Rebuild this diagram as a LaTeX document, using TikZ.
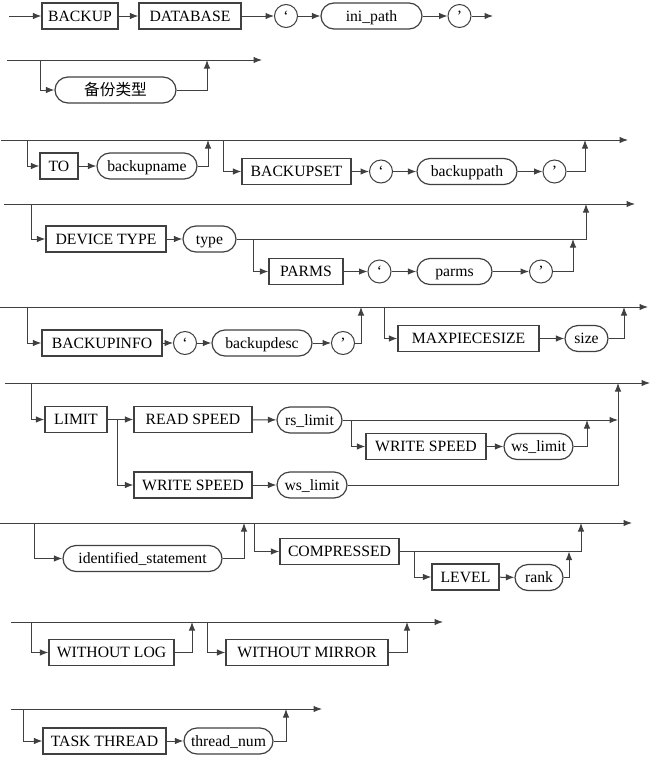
\documentclass[tikz,border=0pt]{standalone}
\usepackage{fontspec}
\setmainfont{Liberation Serif}
\newfontfamily\cjk{Noto Sans CJK SC}
\usetikzlibrary{arrows.meta}

\begin{document}
\begin{tikzpicture}[x=1pt,y=-1pt,
        ln/.style={draw=black!75, line width=1pt},
        arr/.style={ln, -{Latex[length=8.5pt,width=6.5pt]}},
        kw/.style={draw=black!75, line width=1.2pt, minimum height=26pt, inner sep=0pt, text height=10.4pt, text depth=0pt, font=\fontsize{15.7}{18}\selectfont},
        var/.style={kw, rounded corners=13pt},
        quo/.style={circle, draw=black!75, line width=1pt, minimum size=23pt, inner sep=0pt, font=\fontsize{15.7}{18}\selectfont}]
        \useasboundingbox (0,0) rectangle (653,758);

        % BACKUP DATABASE ' ini_path '
        \coordinate (r1s) at (9,16);
        \coordinate (r1e) at (493,16);
        \node[kw, minimum width=76pt] (bkup) at (80,16) {BACKUP};
        \node[kw, minimum width=102pt] (dbase) at (190,16) {DATABASE};
        \node[quo] (q1) at (286,16) {‘};
        \node[var, minimum width=101pt] (inip) at (371.5,16) {ini\_path};
        \node[quo] (q2) at (459.5,16) {’};
        \draw[arr] (r1s) -- (bkup);
        \draw[arr] (bkup) -- (dbase);
        \draw[arr] (dbase) -- (q1);
        \draw[arr] (q1) -- (inip);
        \draw[arr] (inip) -- (q2);
        \draw[arr] (q2) -- (r1e);

        % backup type
        \coordinate (r2s) at (7,60);
        \coordinate (r2e) at (262,60);
        \coordinate (r2a) at (40,60);
        \coordinate (r2b) at (207,60);
        \node[var, minimum width=121pt] (bktype) at (115.5,90) {\cjk 备份类型};
        \draw[arr] (r2s) -- (r2e);
        \draw[arr] (r2a) |- (bktype);
        \draw[arr] (bktype) -| (r2b);

        % TO / BACKUPSET
        \coordinate (r3s) at (1,140);
        \coordinate (r3e) at (628,140);
        \coordinate (r3a) at (27,140);
        \coordinate (r3b) at (208,140);
        \coordinate (r3c) at (223,140);
        \coordinate (r3d) at (585,140);
        \node[kw, minimum width=38pt] (to) at (59,166) {TO};
        \node[var, minimum width=100pt] (bkname) at (147,166) {backupname};
        \node[kw, minimum width=109pt] (bkset) at (296.5,171.5) {BACKUPSET};
        \node[quo] (q3) at (381,171.5) {‘};
        \node[var, minimum width=100pt] (bkpath) at (467,171.5) {backuppath};
        \node[quo] (q4) at (554.5,171.5) {’};
        \draw[arr] (r3s) -- (r3e);
        \draw[arr] (r3a) |- (to);
        \draw[arr] (to) -- (bkname);
        \draw[arr] (bkname) -| (r3b);
        \draw[arr] (r3c) |- (bkset);
        \draw[arr] (bkset) -- (q3);
        \draw[arr] (q3) -- (bkpath);
        \draw[arr] (bkpath) -- (q4);
        \draw[arr] (q4) -| (r3d);

        % DEVICE TYPE / PARMS
        \coordinate (r4s) at (4,204);
        \coordinate (r4e) at (635,204);
        \coordinate (r4a) at (31,204);
        \coordinate (r4c) at (586,204);
        \coordinate (r4d) at (253,239);
        \coordinate (r4f) at (573,239);
        \node[kw, minimum width=120pt] (devtype) at (106,239) {DEVICE TYPE};
        \node[var, minimum width=53pt] (type) at (209.5,239) {type};
        \node[kw, minimum width=74pt] (parms) at (306,271.5) {PARMS};
        \node[quo] (q5) at (379.5,271.5) {‘};
        \node[var, minimum width=75pt] (parmsv) at (454.5,271.5) {parms};
        \node[quo] (q6) at (541,271.5) {’};
        \draw[arr] (r4s) -- (r4e);
        \draw[arr] (r4a) |- (devtype);
        \draw[arr] (devtype) -- (type);
        \draw[arr] (type) -| (r4c);
        \draw[arr] (r4d) |- (parms);
        \draw[arr] (parms) -- (q5);
        \draw[arr] (q5) -- (parmsv);
        \draw[arr] (parmsv) -- (q6);
        \draw[arr] (q6) -| (r4f);

        % BACKUPINFO / MAXPIECESIZE
        \coordinate (r5s) at (0,307);
        \coordinate (r5e) at (648,307);
        \coordinate (r5a) at (27,307);
        \coordinate (r5b) at (361,307);
        \coordinate (r5c) at (384,307);
        \coordinate (r5d) at (624,307);
        \node[kw, minimum width=120pt] (bkinfo) at (102,343) {BACKUPINFO};
        \node[quo] (q7) at (185,343) {‘};
        \node[var, minimum width=100pt] (bkdesc) at (262,343) {backupdesc};
        \node[quo] (q8) at (343,343) {’};
        \node[kw, minimum width=141pt] (maxps) at (468.5,338.5) {MAXPIECESIZE};
        \node[var, minimum width=43pt] (size) at (586.5,338.5) {size};
        \draw[arr] (r5s) -- (r5e);
        \draw[arr] (r5a) |- (bkinfo);
        \draw[arr] (bkinfo) -- (q7);
        \draw[arr] (q7) -- (bkdesc);
        \draw[arr] (bkdesc) -- (q8);
        \draw[arr] (q8) -| (r5b);
        \draw[arr] (r5c) |- (maxps);
        \draw[arr] (maxps) -- (size);
        \draw[arr] (size) -| (r5d);

        % LIMIT
        \coordinate (r6s) at (5,383);
        \coordinate (r6e) at (650,383);
        \coordinate (r6a) at (31,383);
        \coordinate (r6b) at (117,419.5);
        \coordinate (r6c) at (618,383);
        \coordinate (r6j) at (618,420);
        \coordinate (r6k) at (351,420);
        \coordinate (r6m) at (587,420);
        \node[kw, minimum width=62pt] (limit) at (76,419.5) {LIMIT};
        \node[kw, minimum width=118pt] (rdspd) at (193,419.5) {READ SPEED};
        \node[var, minimum width=65pt] (rslim) at (309.5,420) {rs\_limit};
        \node[kw, minimum width=120pt] (wrspdA) at (426,446.5) {WRITE SPEED};
        \node[var, minimum width=69pt] (wslimA) at (538.5,446.5) {ws\_limit};
        \node[kw, minimum width=118pt] (wrspdB) at (193,485) {WRITE SPEED};
        \node[var, minimum width=70pt] (wslimB) at (312,485) {ws\_limit};
        \draw[arr] (r6s) -- (r6e);
        \draw[arr] (r6a) |- (limit);
        \draw[arr] (limit) -- (rdspd);
        \draw[arr] (rdspd) -- (rslim);
        \draw[arr] (rslim) -- (r6j);
        \draw[arr] (r6b) |- (wrspdB);
        \draw[arr] (wrspdB) -- (wslimB);
        \draw[arr] (wslimB) -| (r6c);
        \draw[arr] (r6k) |- (wrspdA);
        \draw[arr] (wrspdA) -- (wslimA);
        \draw[arr] (wslimA) -| (r6m);

        % identified_statement / COMPRESSED
        \coordinate (r7s) at (0,523);
        \coordinate (r7e) at (632,523);
        \coordinate (r7a) at (34,523);
        \coordinate (r7b) at (244,523);
        \coordinate (r7c) at (254,523);
        \coordinate (r7d) at (581,523);
        \coordinate (r7f) at (414,551.5);
        \coordinate (r7g) at (569,551.5);
        \node[var, minimum width=159pt] (idstmt) at (142.5,558.5) {identified\_statement};
        \node[kw, minimum width=119pt] (compr) at (339.5,551.5) {COMPRESSED};
        \node[kw, minimum width=67pt] (level) at (465.5,577) {LEVEL};
        \node[var, minimum width=48pt] (rank) at (539,577.5) {rank};
        \draw[arr] (r7s) -- (r7e);
        \draw[arr] (r7a) |- (idstmt);
        \draw[arr] (idstmt) -| (r7b);
        \draw[arr] (r7c) |- (compr);
        \draw[arr] (compr) -| (r7d);
        \draw[arr] (r7f) |- (level);
        \draw[arr] (level) -- (rank);
        \draw[arr] (rank) -| (r7g);

        % WITHOUT LOG / WITHOUT MIRROR
        \coordinate (r8s) at (11,622);
        \coordinate (r8e) at (443,622);
        \coordinate (r8a) at (31,622);
        \coordinate (r8b) at (192,622);
        \coordinate (r8c) at (207,622);
        \coordinate (r8d) at (407,622);
        \node[kw, minimum width=125pt] (wolog) at (111.5,652.5) {WITHOUT LOG};
        \node[kw, minimum width=162pt] (womir) at (307,652.5) {WITHOUT MIRROR};
        \draw[arr] (r8s) -- (r8e);
        \draw[arr] (r8a) |- (wolog);
        \draw[arr] (wolog) -| (r8b);
        \draw[arr] (r8c) |- (womir);
        \draw[arr] (womir) -| (r8d);

        % TASK THREAD
        \coordinate (r9s) at (11,709);
        \coordinate (r9e) at (322,709);
        \coordinate (r9a) at (23,709);
        \coordinate (r9b) at (286,709);
        \node[kw, minimum width=123pt] (tthread) at (104.5,741) {TASK THREAD};
        \node[var, minimum width=89pt] (thnum) at (228.5,741) {thread\_num};
        \draw[arr] (r9s) -- (r9e);
        \draw[arr] (r9a) |- (tthread);
        \draw[arr] (tthread) -- (thnum);
        \draw[arr] (thnum) -| (r9b);
    \end{tikzpicture}
\end{document}
